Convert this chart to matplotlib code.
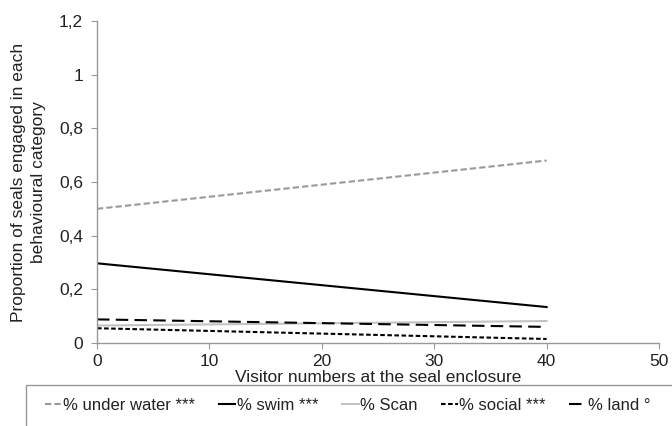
import matplotlib
matplotlib.use("Agg")
import matplotlib.pyplot as plt
from matplotlib.patches import Rectangle

plt.rcParams['font.family'] = ['Liberation Sans', 'DejaVu Sans']

visitors = [0, 40]
under_water = [0.50, 0.68]
swim = [0.297, 0.134]
scan = [0.065, 0.082]
social = [0.055, 0.015]
land = [0.088, 0.060]

labels = ['% under water ***', '% swim ***', '% Scan', '% social ***', '% land °']
xticks = [0, 10, 20, 30, 40, 50]
yticks = [0, 0.2, 0.4, 0.6, 0.8, 1.0, 1.2]
ytick_labels = ['0', '0,2', '0,4', '0,6', '0,8', '1', '1,2']

fig = plt.figure(figsize=(6.72, 4.26), dpi=100)
ax = fig.add_axes([97/672, 1-343/426, (659-97)/672, (343-21)/426])

ax.plot(visitors, under_water, color='#999999', lw=1.5, dashes=(3, 1.5), label=labels[0])
ax.plot(visitors, swim, color='black', lw=1.5, label=labels[1])
ax.plot(visitors, scan, color='#c3c3c3', lw=1.5, label=labels[2])
ax.plot(visitors, social, color='black', lw=1.5, dashes=(2.2, 1.2), label=labels[3])
ax.plot(visitors, land, color='black', lw=1.5, dashes=(6, 3), label=labels[4])

ax.set_xlim(0, 50)
ax.set_ylim(0, 1.2)
ax.set_xticks(xticks)
ax.set_yticks(yticks)
ax.set_yticklabels(ytick_labels)
for s in ['top', 'right']:
    ax.spines[s].set_visible(False)
for s in ['left', 'bottom']:
    ax.spines[s].set_color('#999999')
    ax.spines[s].set_linewidth(1.0)
ax.tick_params(axis='both', colors='#999999', labelcolor='#222222', labelsize=12.5, length=4, direction='out')
ax.tick_params(axis='x', pad=4)
ax.tick_params(axis='y', pad=6)
ax.set_xlabel('Visitor numbers at the seal enclosure', fontsize=12.5, color='#222222', labelpad=1)
ax.set_ylabel('Proportion of seals engaged in each\nbehavioural category', fontsize=12.5, color='#222222', labelpad=9, linespacing=1.45)

fig.patches.append(Rectangle((26/672, -0.01), 1.0, 1-385/426 + 0.01, transform=fig.transFigure,
                             fill=False, edgecolor='#999999', lw=1.0))
leg = fig.legend(loc='center left', bbox_to_anchor=(45/672, (426-405)/426), ncol=5,
                 frameon=False, fontsize=12, handlelength=1.0, handletextpad=0.1,
                 columnspacing=1.4, borderaxespad=0, borderpad=0)
for t in leg.get_texts():
    t.set_color('#222222')

fig.savefig('out.png', dpi=100)
